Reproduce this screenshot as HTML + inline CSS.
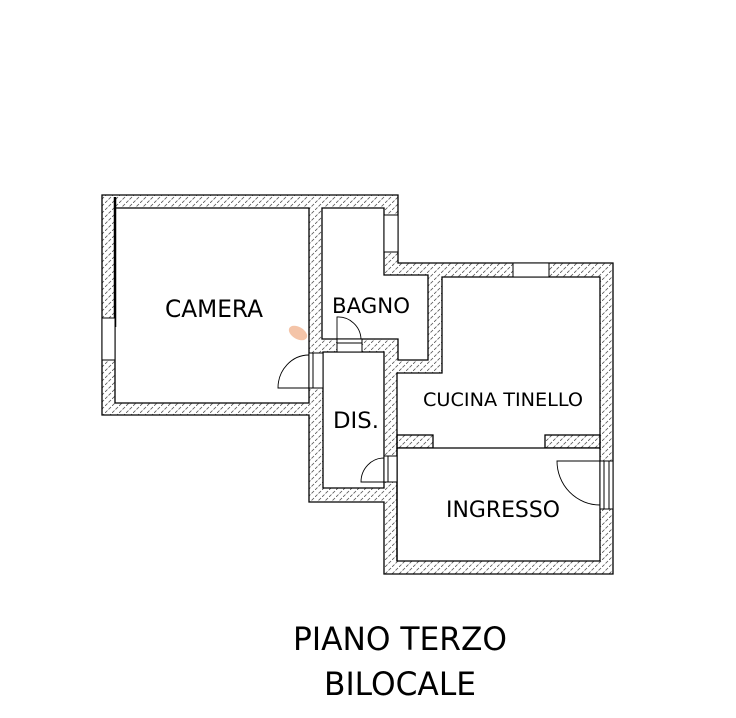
<!DOCTYPE html>
<html><head><meta charset="utf-8"><style>
html,body{margin:0;padding:0;background:#fff;}
svg{display:block;}
text{font-family:"DejaVu Sans","Liberation Sans",sans-serif;fill:#000;}
</style></head><body>
<svg width="736" height="718" viewBox="0 0 736 718" xmlns="http://www.w3.org/2000/svg">
<defs>
<pattern id="h" patternUnits="userSpaceOnUse" width="7" height="7">
<line x1="0" y1="7" x2="7" y2="0" stroke="#555" stroke-width="0.8" stroke-dasharray="3.5,1.5"/>
</pattern>
</defs>
<path fill="url(#h)" fill-rule="evenodd" stroke="#000" stroke-width="1.3" d="
M102,195 L398,195 L398,263 L613,263 L613,574 L384,574 L384,502 L309,502 L309,415 L102,415 Z
M115,208 L309,208 L309,403 L115,403 Z
M322,208 L384,208 L384,275 L428,275 L428,360 L398,360 L398,339 L322,339 Z
M442,277 L600,277 L600,561 L397,561 L397,373 L442,373 Z
M323,352 L384,352 L384,488 L323,488 Z"/>
<rect x="397" y="435" width="36" height="13" fill="url(#h)" stroke="#000" stroke-width="1.3"/>
<rect x="545" y="435" width="55" height="13" fill="url(#h)" stroke="#000" stroke-width="1.3"/>
<rect x="398" y="448" width="201" height="112" fill="#fff"/>
<line x1="397" y1="448" x2="600" y2="448" stroke="#000" stroke-width="1.3"/>
<line x1="397" y1="448" x2="397" y2="561" stroke="#000" stroke-width="1.3"/>
<line x1="115" y1="197" x2="115" y2="327" stroke="#000" stroke-width="2.5"/>
<g fill="#fff" stroke="#000" stroke-width="1">
<rect x="102" y="318" width="13" height="42"/>
<rect x="384" y="215" width="14" height="37"/>
<rect x="513" y="263" width="36" height="14"/>
<rect x="600" y="461" width="13" height="48"/>
<line x1="604" y1="461" x2="604" y2="509"/>
<line x1="609" y1="461" x2="609" y2="509"/>
<rect x="337" y="339" width="25" height="13"/>
<line x1="337" y1="343" x2="362" y2="343"/>
<rect x="384" y="456" width="13" height="26"/>
<line x1="388" y1="456" x2="388" y2="482"/>
<rect x="309" y="353" width="14" height="35"/>
<line x1="313" y1="353" x2="313" y2="388"/>
</g>
<g fill="none" stroke="#000" stroke-width="0.9">
<path d="M337,339 L337,317 A23,23 0 0 1 361,339"/>
<path d="M384,482 L361,482 A23,24 0 0 1 384,458"/>
<path d="M309,388 L278,388 A31,33 0 0 1 309,355"/>
<path d="M600,461 L557,461 A43,44 0 0 0 600,505"/>
</g>
<ellipse cx="298" cy="333" rx="10" ry="6" transform="rotate(30 298 333)" fill="#f4c4a8"/>
<text x="214" y="317" font-size="24" text-anchor="middle" textLength="98" lengthAdjust="spacingAndGlyphs">CAMERA</text>
<text x="371" y="313" font-size="21" text-anchor="middle" textLength="78" lengthAdjust="spacingAndGlyphs">BAGNO</text>
<text x="503" y="406" font-size="19" text-anchor="middle" textLength="160" lengthAdjust="spacingAndGlyphs">CUCINA TINELLO</text>
<text x="356" y="428" font-size="22" text-anchor="middle" textLength="46" lengthAdjust="spacingAndGlyphs">DIS.</text>
<text x="503" y="517" font-size="22" text-anchor="middle" textLength="114" lengthAdjust="spacingAndGlyphs">INGRESSO</text>
<text x="400" y="650" font-size="32" text-anchor="middle" textLength="214" lengthAdjust="spacingAndGlyphs">PIANO TERZO</text>
<text x="400" y="695" font-size="32" text-anchor="middle" textLength="152" lengthAdjust="spacingAndGlyphs">BILOCALE</text>
</svg>
</body></html>
